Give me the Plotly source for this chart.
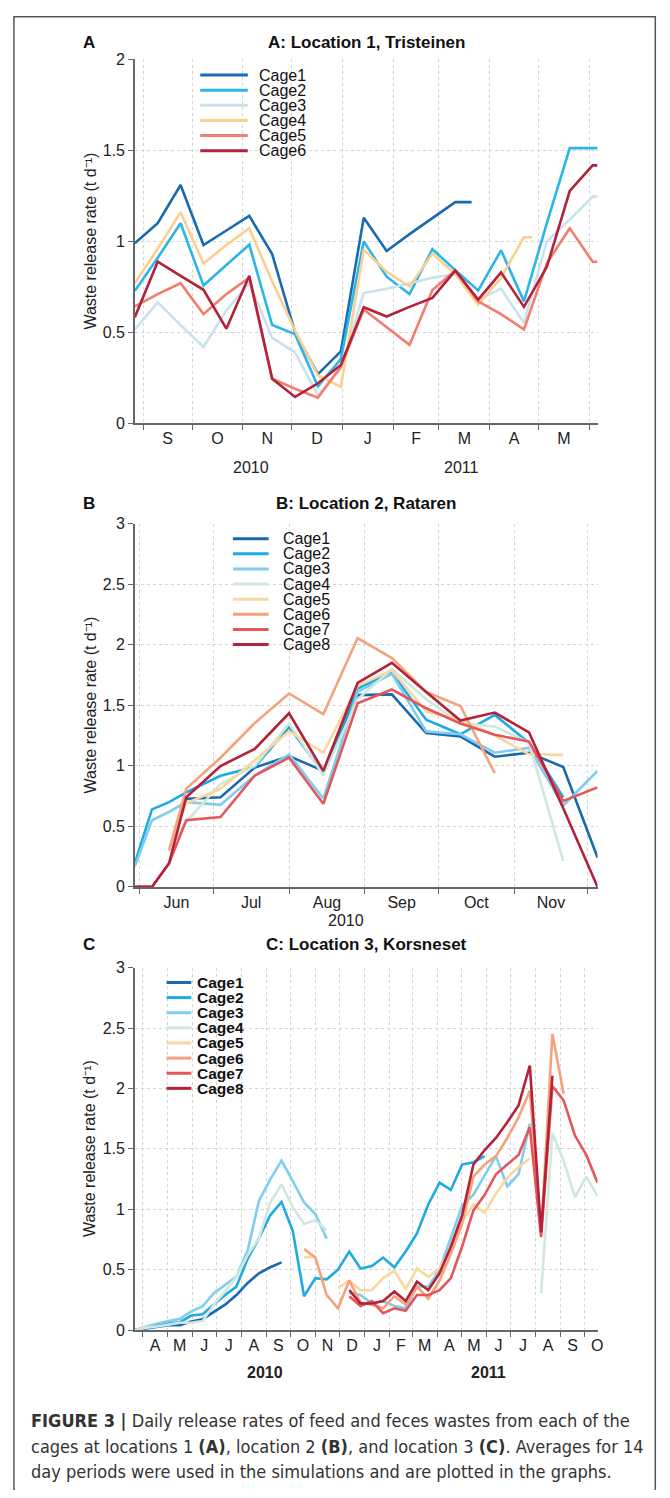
import plotly.graph_objects as go
import pandas as pd

# The page body keeps its default 8px margin, so the figure div is placed at (8, 8)
OFF = 8
W, H = 670 - 2 * OFF, 1498 - 2 * OFF

# ---------------- Panel A: Location 1, Tristeinen (14-day averages) ----------------
CAGES_A = ["Cage1", "Cage2", "Cage3", "Cage4", "Cage5", "Cage6"]
DATES_A = pd.date_range("2010-08-27", periods=21, freq="14D")
A_CAGE1 = [0.99, 1.10, 1.31, 0.98, 1.06, 1.14, 0.93, 0.50, 0.27, 0.395, 1.13, 0.947, 1.04, 1.13, 1.216,
           None, None, None, None, None, None]
A_CAGE2 = [0.728, 0.91, 1.10, 0.757, 0.87, 0.982, 0.54, 0.49, 0.203, 0.353, 1.00, 0.806, 0.71, 0.957, 0.842,
           0.73, 0.951, 0.67, 1.10, 1.513, 1.513]
A_CAGE3 = [0.516, 0.665, 0.54, 0.42, 0.62, 0.77, 0.47, 0.39, 0.154, 0.30, 0.716, 0.74, 0.77, 0.80, 0.82,
           0.68, 0.74, 0.553, 1.00, 1.12, 1.246]
A_CAGE4 = [0.77, 0.96, 1.16, 0.879, 0.98, 1.072, 0.78, 0.51, 0.263, 0.20, 0.955, 0.833, 0.752, 0.933, 0.82,
           0.652, 0.80, 1.023, None, None, None]
A_CAGE5 = [0.643, 0.71, 0.77, 0.60, 0.71, 0.80, 0.245, 0.19, 0.141, 0.31, 0.625, 0.53, 0.431, 0.733, 0.84,
           0.67, 0.60, 0.516, 0.88, 1.072, 0.888]
A_CAGE6 = [0.583, 0.888, 0.81, 0.734, 0.52, 0.811, 0.245, 0.145, 0.22, 0.32, 0.638, 0.587, 0.64, 0.689, 0.839,
           0.68, 0.83, 0.64, 0.86, 1.277, 1.418]
# end of each cage's last averaging period (value held flat until then)
TAIL_A = ["2011-03-21", "2011-06-06", "2011-06-06", "2011-04-27", "2011-06-06", "2011-06-06"]
MONTHS_A = ["S", "O", "N", "D", "J", "F", "M", "A", "M"]
EDGES_A = pd.date_range("2010-09-01", "2011-06-01", freq="MS")
YEARS_A = ["2010", "2011"]

# ---------------- Panel B: Location 2, Rataren ----------------
CAGES_B = ["Cage1", "Cage2", "Cage3", "Cage4", "Cage5", "Cage6", "Cage7", "Cage8"]
DATES_B = ["2010-05-30", "2010-06-06", "2010-06-13", "2010-06-20", "2010-07-04", "2010-07-18",
           "2010-08-01", "2010-08-15", "2010-08-29", "2010-09-12", "2010-09-26", "2010-10-10",
           "2010-10-24", "2010-11-07", "2010-11-21", "2010-12-05"]
B_CAGE1 = [None, None, None, 0.727, 0.74, 0.985, 1.08, 0.958, 1.584, 1.59, 1.27, 1.243, 1.075, 1.108, 0.99, 0.242]
B_CAGE2 = [0.196, 0.64, 0.70, 0.78, 0.917, 0.99, 1.32, 0.94, 1.638, 1.77, 1.38, 1.26, 1.42, 1.19, 0.74, None]
B_CAGE3 = [0.168, 0.55, 0.62, 0.70, 0.678, 0.92, 1.094, 0.73, 1.61, 1.76, 1.284, 1.26, 1.108, 1.148, 0.672, 0.958]
B_CAGE4 = [None, None, 0.32, 0.54, 0.85, 1.00, 1.35, 0.92, 1.55, 1.80, 1.55, 1.35, 1.325, 1.19, 0.215, None]
B_CAGE5 = [None, None, 0.318, 0.69, 0.81, 1.05, 1.284, 1.108, 1.66, 1.79, 1.447, 1.38, 1.25, 1.095, 1.09, None]
B_CAGE6 = [None, None, 0.30, 0.81, 1.067, 1.353, 1.597, 1.426, 2.055, 1.89, 1.61, 1.494, 0.939, None, None, None]
B_CAGE7 = [0.0, 0.0, 0.196, 0.55, 0.577, 0.92, 1.067, 0.686, 1.516, 1.63, 1.475, 1.35, 1.257, 1.20, 0.71, 0.822]
B_CAGE8 = [0.0, 0.0, 0.196, 0.74, 0.998, 1.14, 1.434, 0.958, 1.684, 1.85, 1.61, 1.374, 1.44, 1.276, 0.65, 0.0]
MONTHS_B = ["Jun", "Jul", "Aug", "Sep", "Oct", "Nov"]
EDGES_B = pd.date_range("2010-06-01", "2010-12-01", freq="MS")
YEARS_B = ["2010"]

# ---------------- Panel C: Location 3, Korsneset ----------------
CAGES_C = ["Cage1", "Cage2", "Cage3", "Cage4", "Cage5", "Cage6", "Cage7", "Cage8"]
DATES_C = pd.date_range("2010-03-22", periods=42, freq="14D")
N = None
C_CAGE1 = [0.0, 0.015, 0.03, 0.04, 0.04, 0.07, 0.09, 0.15, 0.21, 0.29, 0.39, 0.47, 0.52, 0.56] + [N] * 28
C_CAGE2 = [0.0, 0.02, 0.04, 0.055, 0.065, 0.12, 0.13, 0.21, 0.29, 0.36, 0.59, 0.76, 0.95, 1.06, 0.82, 0.28,
           0.43, 0.42, 0.50, 0.65, 0.51, 0.53, 0.60, 0.52, 0.65, 0.80, 1.04, 1.22, 1.16, 1.37, 1.39, 1.44] + [N] * 10
C_CAGE3 = [0.0, 0.03, 0.055, 0.074, 0.093, 0.155, 0.196, 0.305, 0.374, 0.442, 0.66, 1.07, 1.247, 1.402, 1.233,
           1.056, 0.96, 0.756, N, 0.31, 0.29, 0.22, 0.24, 0.20, 0.18, 0.36, 0.36, 0.50, 0.76, 1.03, 1.12, 1.28,
           1.44, 1.19, 1.29, 1.71] + [N] * 6
C_CAGE4 = [0.0, 0.02, 0.03, 0.046, 0.06, 0.06, 0.074, 0.21, 0.32, 0.44, 0.62, 0.76, 1.056, 1.206, 1.015,
           0.878, 0.91, 0.824] + [N] * 18 + [0.305, 1.63, 1.40, 1.10, 1.27, 1.11]
C_CAGE5 = [N] * 15 + [0.60, 0.61, N, 0.35, 0.41, 0.33, 0.33, 0.43, 0.49, 0.34, 0.51, 0.44, 0.51, 0.67, 0.90,
                      1.04, 0.97, 1.13, 1.26, 1.35, 1.42] + [N] * 6
C_CAGE6 = [N] * 15 + [0.67, 0.60, 0.29, 0.18, 0.41, 0.23, 0.21, 0.18, 0.28, 0.21, 0.36, 0.26, 0.41, 0.63, 0.88,
                      1.27, 1.37, 1.44, 1.59, 1.76, 1.98, 0.80, 2.45, 1.956] + [N] * 3
C_CAGE7 = [N] * 19 + [0.28, 0.20, 0.24, 0.14, 0.18, 0.16, 0.29, 0.29, 0.33, 0.43, 0.69, 0.99, 1.12, 1.29, 1.37,
                      1.45, 1.68, 0.77, 2.02, 1.90, 1.61, 1.45, 1.22]
C_CAGE8 = [N] * 19 + [0.33, 0.22, 0.22, 0.24, 0.32, 0.24, 0.40, 0.33, 0.47, 0.69, 0.95, 1.37, 1.49, 1.59, 1.72,
                      1.86, 2.19, 0.81, 2.105] + [N] * 4
MONTHS_C = ["A", "M", "J", "J", "A", "S", "O", "N", "D", "J", "F", "M", "A", "M", "J", "J", "A", "S", "O"]
EDGES_C = pd.date_range("2010-04-01", "2011-11-01", freq="MS")
YEARS_C = ["2010", "2011"]

COLORS_A = ["#1a6aaf", "#2bb5e8", "#c9e2ec", "#fbcf90", "#f27e70", "#b3223a"]
COLORS_BC = ["#1a6aaf", "#1eaae2", "#80cdee", "#d1e7dc", "#fbd79f", "#f5a27a", "#e5565b", "#b3223a"]

FONT = "Liberation Sans, Arial, sans-serif"
AX = "#666666"
GRID = "#d4d4d4"
LW = 2.6
YTITLE = "Waste release rate (t d\u207b\u00b9)"


def px(p):
    return (p - OFF) / W


def py(p):
    return 1 - (p - OFF) / H


fig = go.Figure()

series_a = [A_CAGE1, A_CAGE2, A_CAGE3, A_CAGE4, A_CAGE5, A_CAGE6]
for name, vals, col, tail in zip(CAGES_A, series_a, COLORS_A, TAIL_A):
    xs = [d for d, v in zip(DATES_A, vals) if v is not None] + [pd.Timestamp(tail)]
    ys = [v for v in vals if v is not None]
    ys = ys + [ys[-1]]
    fig.add_trace(go.Scatter(x=xs, y=ys, mode="lines", name=name, showlegend=False,
                             line=dict(color=col, width=LW), xaxis="x", yaxis="y"))

series_b = [B_CAGE1, B_CAGE2, B_CAGE3, B_CAGE4, B_CAGE5, B_CAGE6, B_CAGE7, B_CAGE8]
for name, vals, col in zip(CAGES_B, series_b, COLORS_BC):
    fig.add_trace(go.Scatter(x=pd.to_datetime(DATES_B), y=vals, mode="lines", name=name, showlegend=False,
                             line=dict(color=col, width=LW), xaxis="x2", yaxis="y2"))

series_c = [C_CAGE1, C_CAGE2, C_CAGE3, C_CAGE4, C_CAGE5, C_CAGE6, C_CAGE7, C_CAGE8]
for name, vals, col in zip(CAGES_C, series_c, COLORS_BC):
    fig.add_trace(go.Scatter(x=DATES_C, y=vals, mode="lines", name=name, showlegend=False,
                             line=dict(color=col, width=LW), xaxis="x3", yaxis="y3"))


def mids(edges):
    return [edges[i] + (edges[i + 1] - edges[i]) / 2 for i in range(len(edges) - 1)]


def xaxis(rng, edges, labels, anchor):
    return dict(
        type="date", range=rng, domain=[px(136), px(603)], anchor=anchor,
        showline=True, linecolor=AX, linewidth=1.5,
        tickmode="array", tickvals=mids(edges)[:len(labels)], ticktext=labels,
        ticks="", showgrid=False, zeroline=False,
        tickfont=dict(family=FONT, size=16, color="#222"),
        minor=dict(tickmode="array", tickvals=list(edges), ticks="outside", ticklen=5,
                   tickwidth=1.2, tickcolor=AX, showgrid=True, gridcolor=GRID,
                   griddash="dot", gridwidth=1),
        fixedrange=True,
    )


def yaxis(top_val, top, bottom, anchor):
    return dict(
        range=[0, top_val], domain=[py(bottom), py(top)], anchor=anchor,
        dtick=0.5, showline=True, linecolor=AX, linewidth=1.5,
        ticks="outside", ticklen=5, tickwidth=1.2, tickcolor=AX,
        showgrid=True, gridcolor=GRID, griddash="dot", gridwidth=1, zeroline=False,
        tickfont=dict(family=FONT, size=16, color="#222"), fixedrange=True,
    )


# plot areas in page pixels (top, bottom)
PA = (52, 420)
PB = (521.5, 889)
PC = (970.7, 1337.3)

fig.update_layout(
    width=W, height=H, margin=dict(l=0, r=0, t=0, b=0),
    paper_bgcolor="white", plot_bgcolor="white",
    font=dict(family=FONT, color="#222"),
    xaxis=xaxis(["2010-08-27", "2011-06-06"], EDGES_A, MONTHS_A, "y"), yaxis=yaxis(2, *PA, "x"),
    xaxis2=xaxis(["2010-05-30", "2010-12-05"], EDGES_B, MONTHS_B, "y2"), yaxis2=yaxis(3, *PB, "x2"),
    xaxis3=xaxis(["2010-03-22", "2011-10-17"], EDGES_C, MONTHS_C, "y3"), yaxis3=yaxis(3, *PC, "x3"),
    showlegend=False,
)

ann = []
shapes = []

# legends (key line + label) in page pixels
LEGENDS = [
    (CAGES_A, COLORS_A, 202, 250, 259, 67.7, 15.3, False, 16),
    (CAGES_B, COLORS_BC, 235, 271, 284, 536.7, 15.3, False, 16),
    (CAGES_C, COLORS_BC, 168, 193, 197, 985.7, 15.3, True, 15.5),
]
for names, cols, lx0, lx1, tx, y0, dy, bold, fs in LEGENDS:
    for i, (nm, c) in enumerate(zip(names, cols)):
        yy = y0 + i * dy
        shapes.append(dict(type="line", xref="paper", yref="paper", x0=px(lx0), x1=px(lx1),
                           y0=py(yy), y1=py(yy), line=dict(color=c, width=3)))
        ann.append(dict(x=px(tx), y=py(yy), xref="paper", yref="paper",
                        text=("<b>%s</b>" % nm) if bold else nm, showarrow=False,
                        xanchor="left", yanchor="middle",
                        font=dict(family=FONT, size=fs, color="#111")))

TITLES = ["A: Location 1, Tristeinen", "B: Location 2, Rataren", "C: Location 3, Korsneset"]
LETTERS = ["A", "B", "C"]
for t, l, yp in zip(TITLES, LETTERS, [35, 501.5, 947]):
    ann.append(dict(x=px(369.5), y=py(yp), xref="paper", yref="paper", text="<b>%s</b>" % t,
                    showarrow=False, xanchor="center", yanchor="middle",
                    font=dict(family=FONT, size=17, color="#111")))
    ann.append(dict(x=px(90), y=py(yp), xref="paper", yref="paper", text="<b>%s</b>" % l,
                    showarrow=False, xanchor="center", yanchor="middle",
                    font=dict(family=FONT, size=17, color="#111")))

for (top, bottom) in [PA, PB, PC]:
    ann.append(dict(x=px(91), y=py((top + bottom) / 2), xref="paper", yref="paper",
                    text=YTITLE, textangle=-90, showarrow=False,
                    xanchor="center", yanchor="middle", font=dict(family=FONT, size=16, color="#222")))

for txt, xp in zip(YEARS_A, [253, 466]):
    ann.append(dict(x=px(xp), y=py(465), xref="paper", yref="paper", text=txt, showarrow=False,
                    xanchor="center", yanchor="middle", font=dict(family=FONT, size=16, color="#222")))
for txt, xp in zip(YEARS_B, [349]):
    ann.append(dict(x=px(xp), y=py(923), xref="paper", yref="paper", text=txt, showarrow=False,
                    xanchor="center", yanchor="middle", font=dict(family=FONT, size=16, color="#222")))
for txt, xp in zip(YEARS_C, [267, 493]):
    ann.append(dict(x=px(xp), y=py(1380), xref="paper", yref="paper", text="<b>%s</b>" % txt,
                    showarrow=False, xanchor="center", yanchor="middle",
                    font=dict(family=FONT, size=16, color="#222")))

CAPTION = [
    "<b>FIGURE 3 |</b> Daily release rates of feed and feces wastes from each of the",
    "cages at locations 1 <b>(A)</b>, location 2 <b>(B)</b>, and location 3 <b>(C)</b>. Averages for 14",
    "day periods were used in the simulations and are plotted in the graphs.",
]
for line, yp in zip(CAPTION, [1429, 1455, 1480]):
    ann.append(dict(x=px(29), y=py(yp), xref="paper", yref="paper", text=line, showarrow=False,
                    xanchor="left", yanchor="middle",
                    font=dict(family="Liberation Sans Narrow, DejaVu Sans Condensed, Arial Narrow, sans-serif",
                              size=18, color="#333")))

# outer frame of the figure
shapes.append(dict(type="rect", xref="paper", yref="paper", x0=px(14), x1=px(661.3), y0=py(1520),
                   y1=py(8.8), line=dict(color="#555", width=1.5), fillcolor="rgba(0,0,0,0)", layer="below"))

fig.update_layout(annotations=ann, shapes=shapes)

fig.write_html("out.html")
